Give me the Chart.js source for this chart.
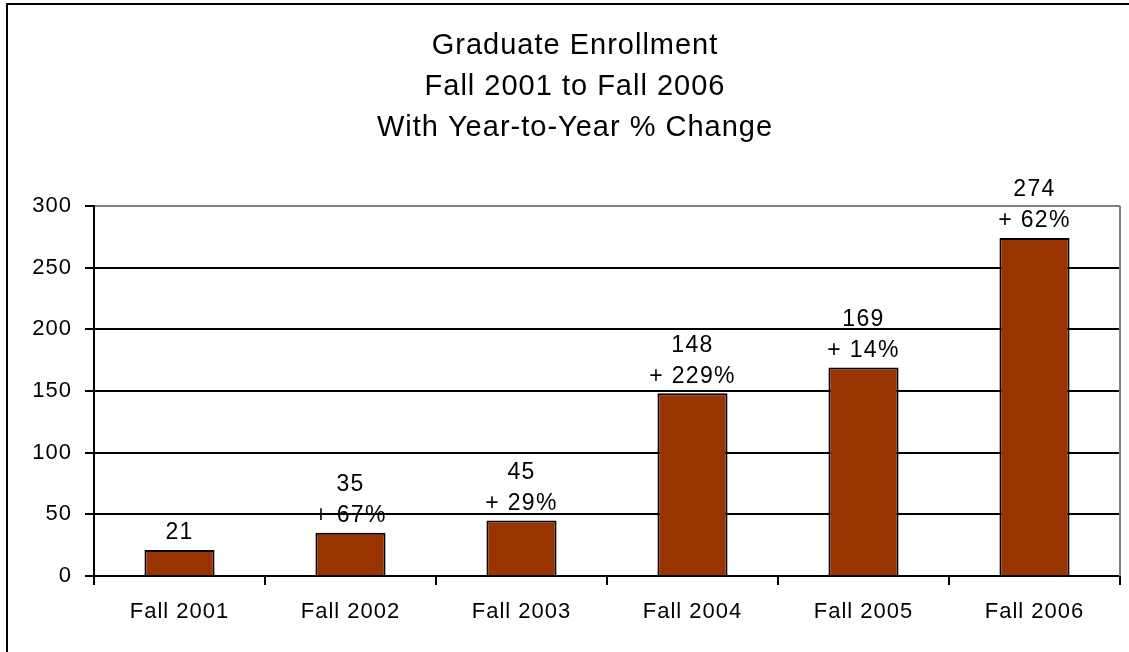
<!DOCTYPE html>
<html lang="en">
<head>
  <meta charset="UTF-8" />
  <title>Graduate Enrollment</title>
  <script src="https://cdn.jsdelivr.net/npm/chart.js"></script>
  <style>
    html, body { margin: 0; padding: 0; background: #fff; overflow: hidden; }
    .frame {
      position: absolute; left: 6px; top: 3px; width: 1200px; height: 700px;
      border-left: 2px solid #000; border-top: 2px solid #000;
    }
    .wrap { position: absolute; left: 0; top: 0; width: 1129px; height: 652px; }
  </style>
</head>
<body>
  <div class="frame"></div>
  <div class="wrap"><canvas id="enrollChart" width="1129" height="652"></canvas></div>

  <script>
    // data
    const years = ["Fall 2001", "Fall 2002", "Fall 2003", "Fall 2004", "Fall 2005", "Fall 2006"];
    const enrollment = [21, 35, 45, 148, 169, 274];
    const pctChange = ["", "+ 67%", "+ 29%", "+ 229%", "+ 14%", "+ 62%"];
    const yTicks = [0, 50, 100, 150, 200, 250, 300];

    const FONT = "'Liberation Sans', Arial, sans-serif";

    // the original text is a little wider than Arial, open it up a bit
    const spacing = {
      id: "spacing",
      beforeDraw(chart) { chart.ctx.letterSpacing = "1px"; }
    };

    // value + year-to-year change above each bar
    const barLabels = {
      id: "barLabels",
      afterDatasetsDraw(chart) {
        const ctx = chart.ctx;
        const meta = chart.getDatasetMeta(0);
        ctx.save();
        ctx.font = "23px " + FONT;
        ctx.letterSpacing = "1.3px";
        ctx.fillStyle = "#000";
        ctx.textAlign = "center";
        ctx.textBaseline = "middle";
        meta.data.forEach((bar, i) => {
          if (pctChange[i]) {
            ctx.fillText(pctChange[i], bar.x, bar.y - 17);
            ctx.fillText(String(enrollment[i]), bar.x, bar.y - 48);
          } else {
            ctx.fillText(String(enrollment[i]), bar.x, bar.y - 17);
          }
        });
        ctx.restore();
      }
    };

    // grey plot-area edge on the right
    const plotEdge = {
      id: "plotEdge",
      beforeDatasetsDraw(chart) {
        const a = chart.chartArea;
        const ctx = chart.ctx;
        ctx.save();
        ctx.strokeStyle = "#808080";
        ctx.lineWidth = 2;
        ctx.beginPath();
        ctx.moveTo(a.right, a.top);
        ctx.lineTo(a.right, a.bottom);
        ctx.stroke();
        ctx.restore();
      }
    };

    new Chart(document.getElementById("enrollChart"), {
      type: "bar",
      data: {
        labels: years,
        datasets: [{
          data: enrollment,
          backgroundColor: "#993300",
          borderColor: "#000",
          borderWidth: 2,
          barPercentage: 0.41,
          categoryPercentage: 1
        }]
      },
      options: {
        responsive: false,
        animation: false,
        layout: { padding: { top: 3, left: 30, right: 9, bottom: 0 } },
        plugins: {
          legend: { display: false },
          tooltip: { enabled: false },
          title: {
            display: true,
            text: ["Graduate Enrollment", "Fall 2001 to Fall 2006", "With Year-to-Year % Change"],
            color: "#000",
            font: { family: FONT, size: 29, weight: "normal", lineHeight: 1.4 },
            padding: { top: 23, bottom: 58 }
          }
        },
        scales: {
          x: {
            offset: true,
            grid: {
              offset: true,
              drawOnChartArea: false,
              drawTicks: true,
              tickLength: 9,
              color: "#000",
              lineWidth: 2
            },
            border: { display: true, color: "#000", width: 2 },
            ticks: { color: "#000", padding: 14, font: { family: FONT, size: 22 } },
            afterFit(scale) { scale.height = 76; }
          },
          y: {
            min: 0,
            max: 300,
            afterBuildTicks(scale) { scale.ticks = yTicks.map(v => ({ value: v })); },
            grid: {
              color: c => (c.tick && c.tick.value === 300 ? "#808080" : "#000"),
              tickColor: "#000",
              lineWidth: 2,
              tickLength: 9
            },
            border: { display: true, color: "#000", width: 2 },
            ticks: { color: "#000", padding: 13, font: { family: FONT, size: 22 } },
            afterFit(scale) { scale.width = 64; }
          }
        }
      },
      plugins: [spacing, plotEdge, barLabels]
    });
  </script>
</body>
</html>
